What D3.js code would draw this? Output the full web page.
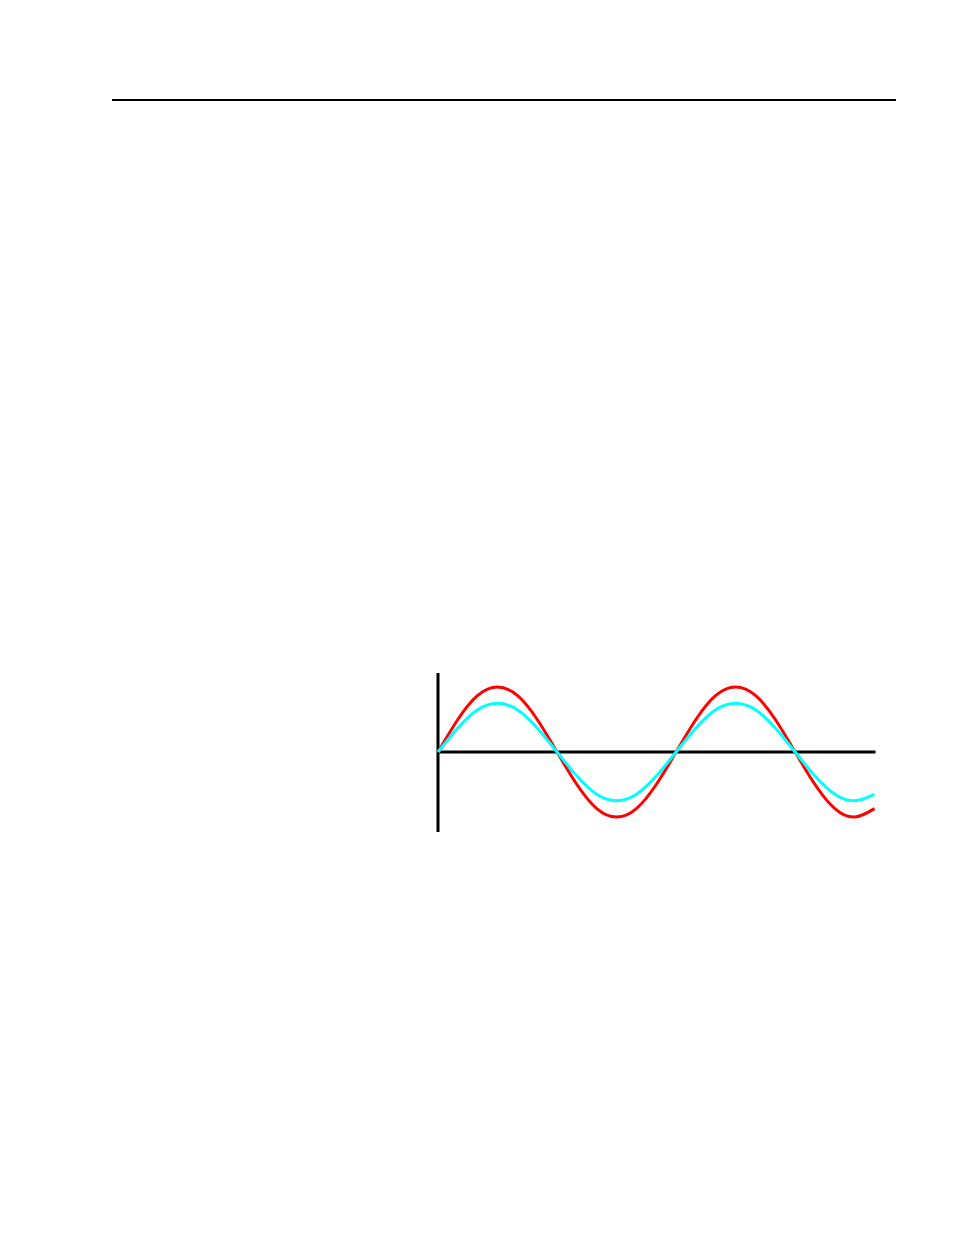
<!DOCTYPE html>
<html>
<head>
<meta charset="utf-8">
<script src="https://cdn.jsdelivr.net/npm/d3@7/dist/d3.min.js"></script>
<style>
  html, body { margin: 0; padding: 0; background: #fff; }
  svg { display: block; }
</style>
</head>
<body>
<svg id="chart" width="954" height="1235"></svg>
<script>
// Phase angle (degrees) of each sample
const angles = [0, 30, 60, 90, 120, 150, 180, 210, 240, 270, 300, 330,
                360, 390, 420, 450, 480, 510, 540, 570, 600, 630, 660];
// Red (larger) wave
const redValues = [0, 0.5, 0.87, 1, 0.87, 0.5, 0, -0.5, -0.87, -1, -0.87, -0.5,
                   0, 0.5, 0.87, 1, 0.87, 0.5, 0, -0.5, -0.87, -1, -0.87];
// Cyan (smaller) wave
const cyanValues = [0, 0.37, 0.65, 0.75, 0.65, 0.37, 0, -0.37, -0.65, -0.75, -0.65, -0.37,
                    0, 0.37, 0.65, 0.75, 0.65, 0.37, 0, -0.37, -0.65, -0.75, -0.65];
const xDomain = [0, 660];
const yDomain = [-1.23, 1.215];

const svg = d3.select("#chart");

// Top page rule
svg.append("line")
  .attr("x1", 112).attr("x2", 896)
  .attr("y1", 100).attr("y2", 100)
  .attr("stroke", "#000").attr("stroke-width", 2);

const x = d3.scaleLinear().domain(xDomain).range([438, 874.5]);
const y = d3.scaleLinear().domain(yDomain).range([832, 673]);

const g = svg.append("g");

// Vertical axis
g.append("line")
  .attr("x1", x(0)).attr("x2", x(0))
  .attr("y1", y(yDomain[0])).attr("y2", y(yDomain[1]))
  .attr("stroke", "#000").attr("stroke-width", 3);

// Horizontal axis
g.append("line")
  .attr("x1", x(0)).attr("x2", x(xDomain[1]) + 1)
  .attr("y1", y(0)).attr("y2", y(0))
  .attr("stroke", "#000").attr("stroke-width", 3);

const line = d3.line()
  .x(d => x(d[0]))
  .y(d => y(d[1]))
  .curve(d3.curveNatural);

const redData = angles.map((a, i) => [a, redValues[i]]);
const cyanData = angles.map((a, i) => [a, cyanValues[i]]);

g.append("path")
  .attr("d", line(redData))
  .attr("fill", "none")
  .attr("stroke", "#ff0000")
  .attr("stroke-width", 3);

g.append("path")
  .attr("d", line(cyanData))
  .attr("fill", "none")
  .attr("stroke", "#00ffff")
  .attr("stroke-width", 3);
</script>
</body>
</html>
